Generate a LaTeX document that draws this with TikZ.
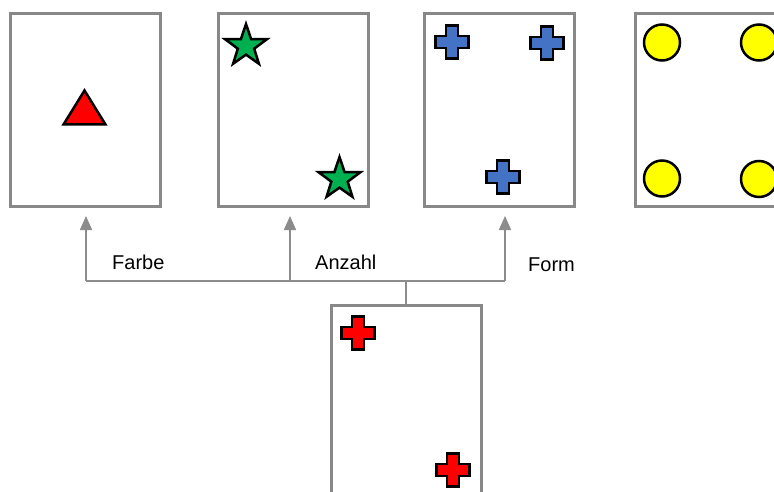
\documentclass[tikz,border=0pt]{standalone}
\usepackage{fontspec}
\setmainfont{Liberation Sans}
\usetikzlibrary{arrows.meta,shapes.geometric}
\definecolor{cardgray}{HTML}{888888}
\definecolor{linegray}{HTML}{8C8C8C}
\definecolor{shapered}{HTML}{FF0000}
\definecolor{shapegreen}{HTML}{00B050}
\definecolor{shapeblue}{HTML}{4472C4}
\definecolor{shapeyellow}{HTML}{FFFF00}
\tikzset{
  card/.style={draw=cardgray, line width=3pt, rectangle, minimum width=150pt, minimum height=192pt, inner sep=0pt, fill=white},
  shapeline/.style={draw=black, line width=2.5pt, line join=miter},
  conn/.style={draw=linegray, line width=1.5pt},
  connarrow/.style={conn, -{Triangle[width=12pt,length=14pt]}},
  lbl/.style={font=\fontsize{20}{24}\selectfont, inner sep=0pt, anchor=west},
  starmark/.style={shapeline, star, star points=5, star point ratio=2.55, minimum size=44pt, inner sep=0pt},
  dotmark/.style={shapeline, circle, minimum size=36pt, inner sep=0pt, fill=shapeyellow},
  plusshape/.pic={
    \filldraw[shapeline, fill=#1] (-5.8,-16.5) -- (5.8,-16.5) -- (5.8,-5.8) -- (16.5,-5.8) -- (16.5,5.8) -- (5.8,5.8) -- (5.8,16.5) -- (-5.8,16.5) -- (-5.8,5.8) -- (-16.5,5.8) -- (-16.5,-5.8) -- (-5.8,-5.8) -- cycle;
  }
}
\begin{document}
\begin{tikzpicture}[x=1pt,y=-1pt]
\useasboundingbox (0,0) rectangle (774,492);
\fill[white] (0,0) rectangle (774,492);
% cards
\node[card] (c1) at (85,110) {};
\node[card] (c2) at (293,110) {};
\node[card] (c3) at (499,110) {};
\node[card] (c4) at (710,110) {};
\node[card] (c5) at (406,401) {};
% card 1: triangle
\filldraw[shapeline, fill=shapered] (84.5,90.5) -- (105.5,124.5) -- (63.5,124.5) -- cycle;
% card 2: stars
\node[starmark, fill=shapegreen] (s1) at (246,46) {};
\node[starmark, fill=shapegreen] (s2) at (339.5,179) {};
% card 3: blue crosses
\pic at (452,42) {plusshape=shapeblue};
\pic at (547,43) {plusshape=shapeblue};
\pic at (503,177) {plusshape=shapeblue};
% card 4: yellow circles
\node[dotmark] (d1) at (662,42.5) {};
\node[dotmark] (d2) at (759,42.5) {};
\node[dotmark] (d3) at (662,178.5) {};
\node[dotmark] (d4) at (759,179) {};
% bottom card: red crosses
\pic at (358,333) {plusshape=shapered};
\pic at (453,470) {plusshape=shapered};
% connectors
\coordinate (stem) at (406,281);
\coordinate (j1) at (86,281);
\coordinate (j2) at (290,281);
\coordinate (j3) at (505,281);
\coordinate (t1) at (86,216);
\coordinate (t2) at (290,216);
\coordinate (t3) at (505,216);
\draw[conn] (c5.north) -- (stem);
\draw[conn] (j1) -- (j3);
\draw[connarrow] (j1) -- (t1);
\draw[connarrow] (j2) -- (t2);
\draw[connarrow] (j3) -- (t3);
% labels
\node[lbl] (l1) at (112,262) {Farbe};
\node[lbl] (l2) at (315,262) {Anzahl};
\node[lbl] (l3) at (528,264.5) {Form};
\end{tikzpicture}
\end{document}
